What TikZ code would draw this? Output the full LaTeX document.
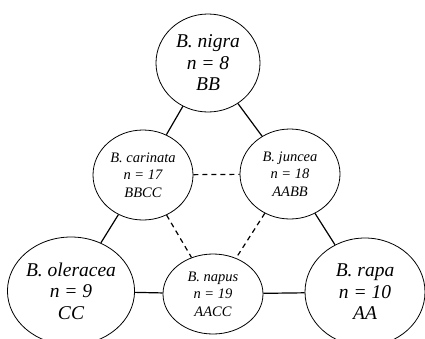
\documentclass[tikz,border=0pt]{standalone}
\usepackage{fontspec}
\setmainfont{Liberation Serif}
\usetikzlibrary{shapes.geometric}

\begin{document}
\begin{tikzpicture}[x=1pt,y=-1pt,
  every node/.style = {shape=ellipse, draw, line width=0.8pt, inner sep=0pt, align=center},
  big/.style = {font=\fontsize{19.5}{21.5}\selectfont\itshape},
  small/.style = {font=\fontsize{14.5}{17.5}\selectfont\itshape},
  link/.style = {line width=1.2pt},
  cross/.style = {line width=1.2pt, dash pattern=on 5pt off 4pt}]

  \useasboundingbox (0,0) rectangle (425,338);

  \node[big, minimum width=104pt, minimum height=98pt] (nigra) at (208,63) {B. nigra \\ n = 8 \\ BB};
  \node[small, minimum width=100pt, minimum height=90pt] (carinata) at (143,175) {B. carinata \\ n = 17 \\ BBCC};
  \node[small, minimum width=100pt, minimum height=90pt] (juncea) at (290,174) {B. juncea \\ n = 18 \\ AABB};
  \node[big, minimum width=118pt, minimum height=108pt] (oleracea) at (71,291) {B. oleracea \\ n = 9 \\ CC};
  \node[small, minimum width=100pt, minimum height=80pt] (napus) at (213,294) {B. napus \\ n = 19 \\ AACC};
  \node[big, minimum width=120pt, minimum height=108pt] (rapa) at (365,292) {B. rapa \\ n = 10 \\ AA};

  \draw[link] (nigra) -- (carinata);
  \draw[link] (nigra) -- (juncea);
  \draw[link] (carinata) -- (oleracea);
  \draw[link] (juncea) -- (rapa);
  \draw[link] (oleracea) -- (napus);
  \draw[link] (napus) -- (rapa);

  \draw[cross] (carinata) -- (juncea);
  \draw[cross] (carinata) -- (napus);
  \draw[cross] (juncea) -- (napus);
\end{tikzpicture}
\end{document}
